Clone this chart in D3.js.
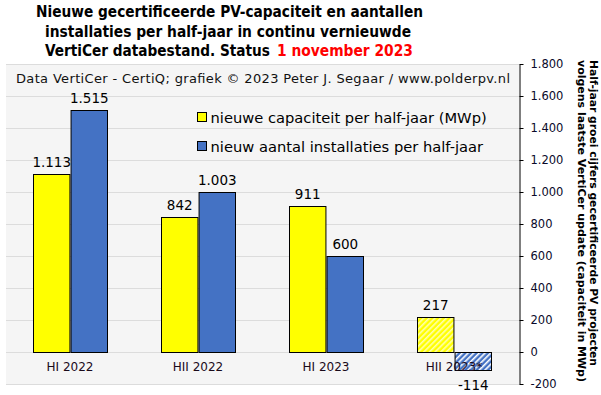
<!DOCTYPE html>
<html>
<head>
<meta charset="utf-8">
<script src="https://cdn.jsdelivr.net/npm/d3@7"></script>
<style>
  body { margin: 0; background: #fff; }
  svg { display: block; font-family: "DejaVu Sans", Verdana, sans-serif; }
</style>
</head>
<body>
<div id="chart"></div>
<script>
// Data
const categories = ["HI 2022", "HII 2022", "HI 2023", "HII 2023*"];
const capaciteit = [1113, 842, 911, 217];      // MWp per half-jaar
const aantal = [1515, 1003, 600, -114];         // installaties per half-jaar
const voorlopig = [false, false, false, true];  // hatched (incomplete period)
const yTicks = [-200, 0, 200, 400, 600, 800, 1000, 1200, 1400, 1600, 1800];
const seriesNames = ["nieuwe capaciteit per half-jaar (MWp)", "nieuw aantal installaties per half-jaar"];

const width = 601, height = 395;
const plot = { left: 6, right: 519, top: 64, bottom: 384 };

const nl = d3.formatLocale({ decimal: ",", thousands: ".", grouping: [3], currency: ["€", ""], minus: "-" });
const fmt = nl.format(",d");

const svg = d3.select("#chart").append("svg")
  .attr("width", width)
  .attr("height", height);

// hatch patterns for the provisional half-year
const defs = svg.append("defs");
function hatch(id, bg, stripe) {
  const p = defs.append("pattern")
    .attr("id", id)
    .attr("patternUnits", "userSpaceOnUse")
    .attr("width", 4).attr("height", 4)
    .attr("patternTransform", "rotate(45)");
  p.append("rect").attr("width", 4).attr("height", 4).attr("fill", bg);
  p.append("rect").attr("width", 1.6).attr("height", 4).attr("fill", stripe);
}
hatch("hatchYellow", "#ffff00", "#ffffb0");
hatch("hatchBlue", "#4472c4", "#ffffff");

const colors = ["#ffff00", "#4472c4"];
const hatchIds = ["url(#hatchYellow)", "url(#hatchBlue)"];

// scales
const x = d3.scaleBand()
  .domain(categories)
  .range([plot.left, plot.right - 1]);

const x1 = d3.scaleBand()
  .domain([0, 1])
  .range([27, 101])
  .paddingInner(0.03);

const y = d3.scaleLinear()
  .domain([-200, 1800])
  .range([plot.bottom, plot.top]);

// plot background
svg.append("rect")
  .attr("x", plot.left)
  .attr("y", plot.top)
  .attr("width", plot.right - plot.left)
  .attr("height", plot.bottom - plot.top)
  .attr("fill", "#f5f5f5");

// gridlines
svg.selectAll(".grid")
  .data(yTicks)
  .enter()
  .append("line")
  .attr("class", "grid")
  .attr("x1", plot.left)
  .attr("x2", plot.right)
  .attr("y1", d => Math.round(y(d)) + 0.5)
  .attr("y2", d => Math.round(y(d)) + 0.5)
  .attr("stroke", "#dcdcdc")
  .attr("stroke-width", 1);

// bars
const rows = categories.map((c, i) => ({ cat: c, vals: [capaciteit[i], aantal[i]], hatched: voorlopig[i] }));

const groups = svg.selectAll(".group")
  .data(rows)
  .enter()
  .append("g")
  .attr("class", "group")
  .attr("transform", d => `translate(${x(d.cat)},0)`);

groups.selectAll("rect")
  .data(d => d.vals.map((v, s) => ({ v, s, hatched: d.hatched })))
  .enter()
  .append("rect")
  .attr("x", d => x1(d.s) + 0.5)
  .attr("y", d => Math.round(y(Math.max(0, d.v))) + 0.5)
  .attr("width", x1.bandwidth())
  .attr("height", d => Math.abs(Math.round(y(d.v)) - Math.round(y(0))))
  .attr("fill", d => d.hatched ? hatchIds[d.s] : colors[d.s])
  .attr("stroke", "#000")
  .attr("stroke-width", 1);

// category labels (drawn over the bars)
svg.selectAll(".cat")
  .data(categories)
  .enter()
  .append("text")
  .attr("class", "cat")
  .attr("x", d => x(d) + x.bandwidth() / 2)
  .attr("y", 371)
  .attr("text-anchor", "middle")
  .attr("font-size", "12px")
  .attr("fill", "#1a0a1a")
  .text(d => d);

// value labels
groups.selectAll(".val")
  .data(d => d.vals.map((v, s) => ({ v, s })))
  .enter()
  .append("text")
  .attr("class", "val")
  .attr("x", d => x1(d.s) + x1.bandwidth() / 2 + 0.5)
  .attr("y", d => d.v >= 0 ? y(d.v) - 7 : y(d.v) + 20)
  .attr("text-anchor", "middle")
  .attr("font-size", "13.5px")
  .attr("fill", "#000")
  .text(d => fmt(d.v));

// right axis
const axis = svg.append("g")
  .attr("transform", `translate(${plot.right + 0.5},0)`)
  .call(d3.axisRight(y).tickValues(yTicks).tickSize(4).tickSizeOuter(0).tickPadding(7).tickFormat(fmt));
axis.select(".domain").attr("stroke", "#000");
axis.selectAll(".tick line").attr("stroke", "#000");
axis.selectAll(".tick text")
  .attr("font-family", "DejaVu Sans, Verdana, sans-serif")
  .attr("font-size", "11.5px")
  .attr("fill", "#0a0a2a");

// right axis title (rotated)
const axisTitle = svg.append("text")
  .attr("transform", "translate(590,60) rotate(90)")
  .attr("text-anchor", "start")
  .attr("font-family", "'DejaVu Sans Condensed', 'DejaVu Sans', sans-serif")
  .attr("font-size", "11px")
  .attr("font-weight", "bold")
  .attr("fill", "#000");
axisTitle.append("tspan")
  .attr("x", 0).attr("y", 0)
  .attr("textLength", 306)
  .attr("lengthAdjust", "spacingAndGlyphs")
  .text("Half-jaar groei cijfers gecertificeerde PV projecten");
axisTitle.append("tspan")
  .attr("x", 0).attr("y", 12)
  .attr("textLength", 322)
  .attr("lengthAdjust", "spacingAndGlyphs")
  .text("volgens laatste VertiCer update (capaciteit in MWp)");

// source line
svg.append("text")
  .attr("x", 16)
  .attr("y", 83)
  .attr("font-size", "13px")
  .attr("textLength", 494)
  .attr("lengthAdjust", "spacing")
  .attr("fill", "#111")
  .text("Data VertiCer - CertiQ; grafiek © 2023 Peter J. Segaar / www.polderpv.nl");

// legend
const legend = svg.selectAll(".legend")
  .data(seriesNames)
  .enter()
  .append("g")
  .attr("class", "legend")
  .attr("transform", (d, i) => `translate(197.5,${112.5 + i * 29})`);
legend.append("rect")
  .attr("width", 9)
  .attr("height", 9)
  .attr("fill", (d, i) => colors[i])
  .attr("stroke", "#000");
legend.append("text")
  .attr("x", 13)
  .attr("y", 10)
  .attr("font-size", "14.7px")
  .attr("fill", "#000")
  .text(d => d);

// title (three lines, last one partly red)
const titleLines = [
  { text: "Nieuwe gecertificeerde PV-capaciteit en aantallen", x: 36, y: 17, len: 387, color: "#000" },
  { text: "installaties per half-jaar in continu vernieuwde", x: 45, y: 37, len: 366, color: "#000" },
  { text: "VertiCer databestand. Status", x: 45, y: 56, len: 225, color: "#000" },
  { text: "1 november 2023", x: 277, y: 56, len: 136, color: "#ff0000" }
];
svg.selectAll(".title")
  .data(titleLines)
  .enter()
  .append("text")
  .attr("class", "title")
  .attr("x", d => d.x)
  .attr("y", d => d.y)
  .attr("textLength", d => d.len)
  .attr("lengthAdjust", "spacingAndGlyphs")
  .attr("font-family", "'DejaVu Sans Condensed', 'DejaVu Sans', sans-serif")
  .attr("font-size", "15.5px")
  .attr("font-weight", "bold")
  .attr("fill", d => d.color)
  .text(d => d.text);
</script>
</body>
</html>
